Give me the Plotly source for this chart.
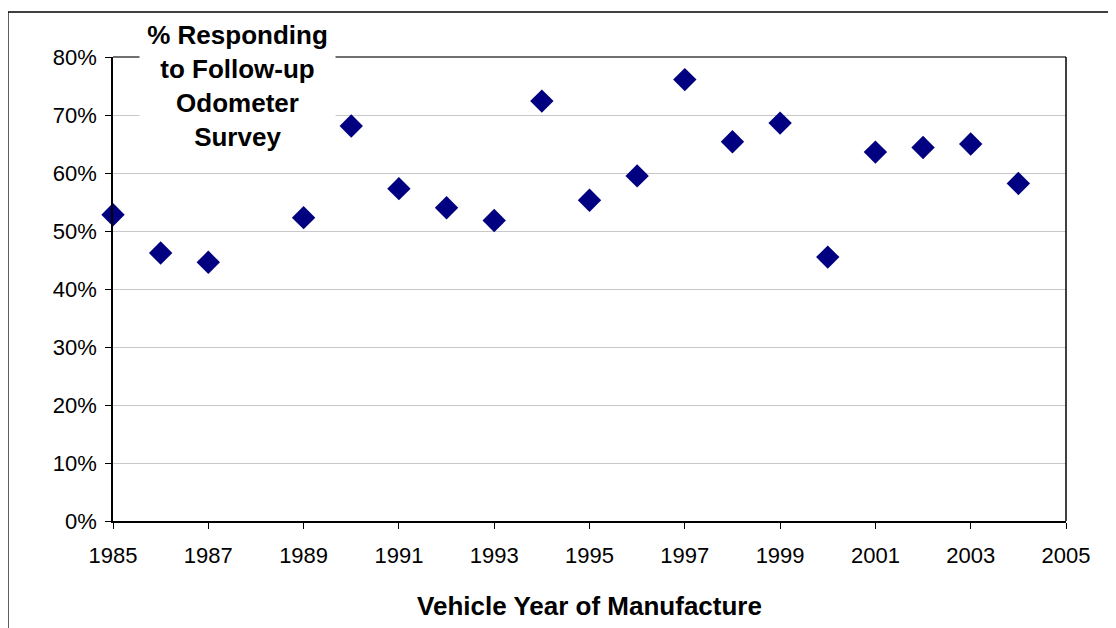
import plotly.graph_objects as go

years = [1985, 1986, 1987, 1989, 1990, 1991, 1992, 1993, 1994, 1995, 1996,
         1997, 1998, 1999, 2000, 2001, 2002, 2003, 2004]
pct_responding = [0.528, 0.462, 0.446, 0.523, 0.681, 0.573, 0.540, 0.518, 0.724,
                  0.553, 0.595, 0.761, 0.654, 0.686, 0.455, 0.636, 0.644, 0.650, 0.582]
x_ticks = [1985, 1987, 1989, 1991, 1993, 1995, 1997, 1999, 2001, 2003, 2005]
y_ticks = [0, 0.1, 0.2, 0.3, 0.4, 0.5, 0.6, 0.7, 0.8]

FONT = "Liberation Sans, Arial, sans-serif"

fig = go.Figure()
fig.add_trace(go.Scatter(
    x=years, y=pct_responding, mode="markers",
    marker=dict(symbol="diamond", size=18, color="#000080", line=dict(width=0)),
    cliponaxis=False, showlegend=False,
))

fig.update_layout(
    width=1116, height=628,
    margin=dict(l=105, r=58, t=49, b=115),
    paper_bgcolor="white", plot_bgcolor="white",
    font=dict(family=FONT, size=22, color="black"),
    xaxis=dict(
        range=[1985, 2005], tickvals=x_ticks, ticktext=[str(v) for v in x_ticks],
        showgrid=False, zeroline=False,
        showline=True, linecolor="black", linewidth=1.5,
        ticks="outside", ticklen=6, tickcolor="black", tickwidth=1,
        tickfont=dict(size=22, family=FONT, color="black"),
        ticklabelstandoff=8,
        title=dict(text="<b>Vehicle Year of Manufacture</b>",
                   font=dict(size=26, family=FONT, color="black"), standoff=30),
    ),
    yaxis=dict(
        range=[0, 0.8], tickvals=y_ticks, tickformat=".0%",
        showgrid=True, gridcolor="#c8c8c8", gridwidth=1, zeroline=False,
        showline=True, linecolor="black", linewidth=1.5, mirror=False,
        ticks="outside", ticklen=6, tickcolor="black", tickwidth=1,
        tickfont=dict(size=22, family=FONT, color="black"),
        ticklabelstandoff=4,
    ),
    shapes=[
        # plot area top border (gray) and right border (black)
        dict(type="line", xref="paper", yref="paper", x0=0, x1=1, y0=1, y1=1,
             line=dict(color="#707070", width=2)),
        dict(type="line", xref="paper", yref="paper", x0=1, x1=1, y0=0, y1=1,
             line=dict(color="black", width=1.5)),
        # outer chart frame
        dict(type="line", xref="paper", yref="paper", x0=-0.1102, x1=-0.1102,
             y0=-0.3, y1=1.097, line=dict(color="black", width=1.3)),
        dict(type="line", xref="paper", yref="paper", x0=-0.1102, x1=1.1,
             y0=1.097, y1=1.097, line=dict(color="black", width=1.3)),
    ],
    annotations=[
        dict(text="<b>% Responding<br>to Follow-up<br>Odometer<br>Survey</b>",
             xref="paper", yref="paper",
             x=(237 - 113) / 953, y=(521 - 86) / 464,
             xanchor="center", yanchor="middle", showarrow=False,
             font=dict(size=26, family=FONT, color="black"),
             bgcolor="white", width=193, height=142, align="center"),
    ],
)

fig.write_html("out.html")
